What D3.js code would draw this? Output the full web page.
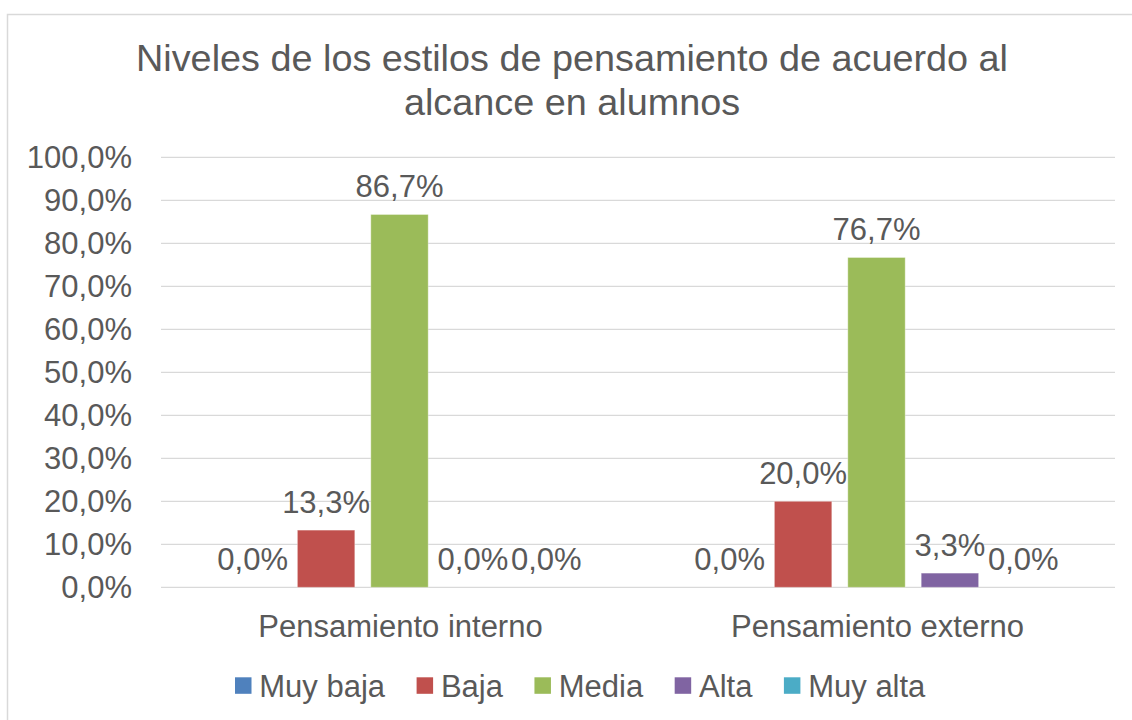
<!DOCTYPE html>
<html><head><meta charset="utf-8">
<script src="https://cdn.jsdelivr.net/npm/d3@7"></script>
<style>
body{margin:0;background:#fff;}
text{font-family:"Liberation Sans",Arial,sans-serif;fill:#595959;}
</style>
</head><body>
<svg id="c" width="1132" height="720"></svg>
<script>
const categories = ["Pensamiento interno", "Pensamiento externo"];
const seriesNames = ["Muy baja", "Baja", "Media", "Alta", "Muy alta"];
const seriesColors = ["#4F81BD", "#C0504D", "#9BBB59", "#8064A2", "#4BACC6"];
const muyBaja = [0.0, 0.0];
const baja = [13.3, 20.0];
const media = [86.7, 76.7];
const alta = [0.0, 3.3];
const muyAlta = [0.0, 0.0];
const yTicks = [0, 10, 20, 30, 40, 50, 60, 70, 80, 90, 100];
const titleLines = ["Niveles de los estilos de pensamiento de acuerdo al", "alcance en alumnos"];

const seriesValues = [muyBaja, baja, media, alta, muyAlta];
const fmt = v => v.toFixed(1).replace(".", ",") + "%";

const svg = d3.select("#c");

// chart border
svg.append("rect").attr("x", 7.5).attr("y", 14.5).attr("width", 1140).attr("height", 720)
  .attr("fill", "none").attr("stroke", "#d9d9d9").attr("stroke-width", 1.5);

const plotL = 161, plotR = 1115, plotB = 587.3, plotT = 157.3;
const x0 = d3.scaleBand().domain(categories).range([plotL, plotR]).padding(0);
const x1 = d3.scaleBand().domain(seriesNames).range([0, x0.bandwidth()])
  .paddingInner(0.218).paddingOuter(0.858);
const y = d3.scaleLinear().domain([0, 100]).range([plotB, plotT]);

// title
const title = svg.append("g");
titleLines.forEach((t, i) => {
  title.append("text").attr("x", 572).attr("y", 71 + i * 44)
    .attr("text-anchor", "middle").attr("font-size", 37.8)
    .text(t);
});

// gridlines
svg.append("g").selectAll("line").data(yTicks).join("line")
  .attr("x1", plotL).attr("x2", plotR)
  .attr("y1", d => y(d)).attr("y2", d => y(d))
  .attr("stroke", "#d9d9d9").attr("stroke-width", 1.3);

// y tick labels
svg.append("g").selectAll("text").data(yTicks).join("text")
  .attr("x", 132).attr("y", d => y(d) + 10.5)
  .attr("text-anchor", "end").attr("font-size", 31)
  .text(d => fmt(d));

// bars
const groups = svg.append("g").selectAll("g").data(categories).join("g")
  .attr("transform", d => `translate(${x0(d)},0)`);

groups.each(function(cat, ci) {
  const g = d3.select(this);
  seriesNames.forEach((s, si) => {
    const v = seriesValues[si][ci];
    g.append("rect")
      .attr("x", x1(s)).attr("width", x1.bandwidth())
      .attr("y", y(v)).attr("height", y(0) - y(v))
      .attr("fill", seriesColors[si])
      .attr("stroke", v > 0 ? "rgba(255,255,255,0.35)" : "none").attr("stroke-width", 1);
  });
  seriesNames.forEach((s, si) => {
    const v = seriesValues[si][ci];
    g.append("text")
      .attr("x", x1(s) + x1.bandwidth() / 2).attr("y", y(v) - 17)
      .attr("text-anchor", "middle").attr("font-size", 31)
      .text(fmt(v));
  });
});

// category labels
svg.append("g").selectAll("text").data(categories).join("text")
  .attr("x", d => x0(d) + x0.bandwidth() / 2 + 1).attr("y", 636.5)
  .attr("text-anchor", "middle").attr("font-size", 31)
  .text(d => d);

// legend
const legend = svg.append("g");
let lx = 235;
seriesNames.forEach((s, i) => {
  legend.append("rect").attr("x", lx).attr("y", 677.3).attr("width", 16.5).attr("height", 16.5)
    .attr("fill", seriesColors[i]);
  const t = legend.append("text").attr("x", lx + 24.3).attr("y", 696.5)
    .attr("font-size", 31).text(s);
  lx += 24.3 + t.node().getComputedTextLength() + 31.5;
});
</script>
</body></html>
